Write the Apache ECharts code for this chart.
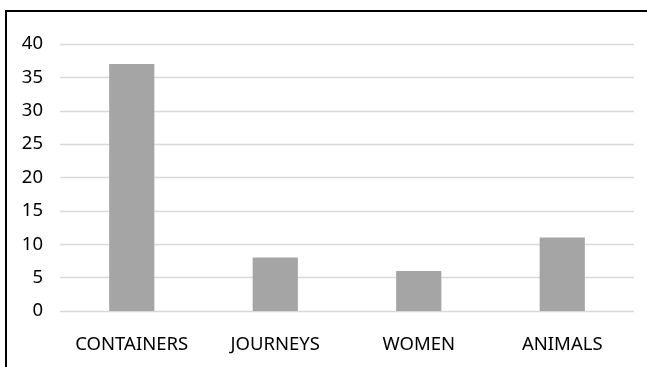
<!DOCTYPE html>
<html>
<head>
<meta charset="utf-8">
<script src="https://cdn.jsdelivr.net/npm/echarts@6/dist/echarts.min.js"></script>
<style>
  html, body { margin: 0; padding: 0; background: #fff; overflow: hidden; }
  #frame { position: absolute; left: 5px; top: 10px; width: 700px; height: 400px; border-left: 2px solid #000; border-top: 2px solid #000; }
  #chart { position: absolute; left: 0; top: 0; width: 647px; height: 367px; }
</style>
</head>
<body>
<div id="frame"></div>
<div id="chart"></div>
<script>
const categories = ['CONTAINERS', 'JOURNEYS', 'WOMEN', 'ANIMALS'];
const counts = [37, 8, 6, 11];
const yMin = 0, yMax = 40, yStep = 5;

const chart = echarts.init(document.getElementById('chart'), null, { renderer: 'canvas' });
const font = '"Noto Sans", sans-serif';
chart.setOption({
  animation: false,
  grid: { left: 60, right: 13, top: 44, bottom: 56, containLabel: false },
  xAxis: {
    type: 'category',
    data: categories,
    axisLine: { show: false },
    axisTick: { show: false },
    axisLabel: { color: '#000', fontSize: 18.5, fontFamily: font, margin: 24, interval: 0, hideOverlap: false }
  },
  yAxis: {
    type: 'value',
    min: yMin, max: yMax, interval: yStep,
    axisLine: { show: false },
    axisTick: { show: false },
    splitLine: { lineStyle: { color: '#d9d9d9', width: 1.3 } },
    axisLabel: { color: '#000', fontSize: 18.5, fontFamily: font, margin: 17 }
  },
  series: [{
    type: 'bar',
    data: counts,
    barWidth: '31.5%',
    itemStyle: { color: '#a5a5a5' }
  }]
});
</script>
</body>
</html>
